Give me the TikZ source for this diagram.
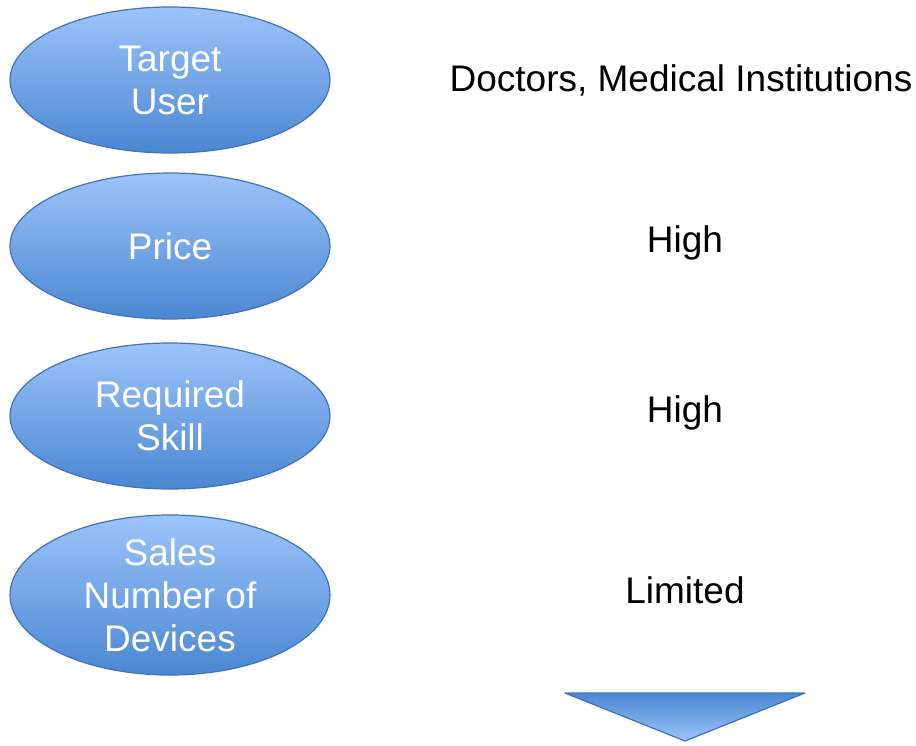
\documentclass[tikz,border=0pt]{standalone}
\usepackage{fontspec}
\setmainfont{Liberation Sans}
\usepackage{xcolor}
\usepackage{tikz}
\usetikzlibrary{calc,positioning,shapes.geometric}

\definecolor{ovaltop}{HTML}{9DC4FA}
\definecolor{ovalbot}{HTML}{4A87D2}
\definecolor{ovalline}{HTML}{3F74BA}

\tikzset{
  oval/.style={ellipse,draw=ovalline,line width=1.2pt,top color=ovaltop,bottom color=ovalbot,
    minimum width=320pt,minimum height=146pt,inner sep=0pt,text=white,align=center,
    font=\fontsize{37}{43}\selectfont},
  valuetext/.style={font=\fontsize{37}{43}\selectfont,text=black}
}

\begin{document}
\begin{tikzpicture}[x=1pt,y=-1pt]
  \useasboundingbox (0,0) rectangle (916,745);
  % left column: attributes
  \node[oval] (user) at (170,80) {Target\\User};
  \node[oval] (price) at (170,246) {Price};
  \node[oval] (skill) at (170,416) {Required\\Skill};
  \node[oval] (sales) at (170,595) {Sales\\Number of\\Devices};
  % right column: values
  \node[valuetext] (userval) at (681,80) {Doctors, Medical Institutions};
  \node[valuetext] (priceval) at (685,243) {High};
  \node[valuetext] (skillval) at (685,413) {High};
  \node[valuetext] (salesval) at (685,590) {Limited};
  % downward triangle
  \coordinate (TL) at (565,693);
  \coordinate (TR) at (805,693);
  \coordinate (T) at (685,741);
  \draw[draw=ovalline,line width=1.2pt,line join=round,top color=ovalbot,bottom color=ovaltop]
    (TL) -- (TR) -- (T) -- cycle;
\end{tikzpicture}
\end{document}
